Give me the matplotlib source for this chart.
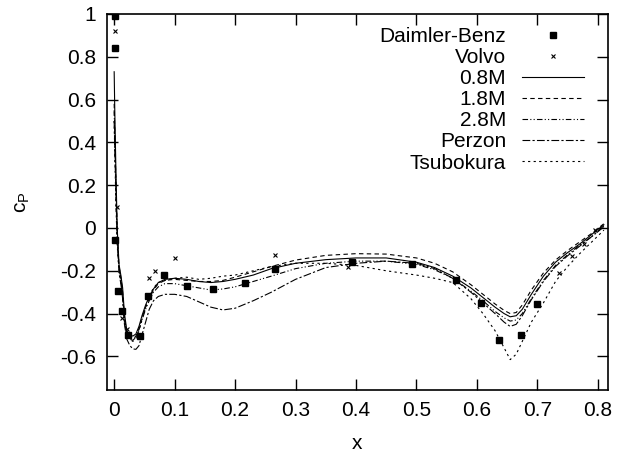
import matplotlib
matplotlib.use("Agg")
import matplotlib.pyplot as plt

plt.rcParams['font.family'] = ['Liberation Sans', 'DejaVu Sans']
plt.rcParams['axes.unicode_minus'] = False
plt.rcParams['mathtext.default'] = 'regular'

# ---- data ----
db_x = [0.002, 0.002, 0.001, 0.007, 0.013, 0.023, 0.043, 0.056, 0.083, 0.12, 0.163,
        0.217, 0.266, 0.393, 0.493, 0.565, 0.607, 0.636, 0.673, 0.70]
db_y = [0.99, 0.84, -0.056, -0.295, -0.39, -0.50, -0.505, -0.32, -0.22, -0.27, -0.285,
        -0.258, -0.19, -0.16, -0.17, -0.245, -0.35, -0.525, -0.50, -0.355]

volvo_x = [0.002, 0.004, 0.013, 0.021, 0.058, 0.068, 0.10, 0.266, 0.387,
           0.735, 0.757, 0.777, 0.795]
volvo_y = [0.92, 0.10, -0.42, -0.47, -0.235, -0.20, -0.14, -0.127, -0.18,
           -0.21, -0.13, -0.075, -0.01]

x_lines = [0.0, 0.001, 0.003, 0.005, 0.008, 0.011, 0.014, 0.017, 0.021, 0.026, 0.031,
           0.036, 0.041, 0.046, 0.052, 0.058, 0.065, 0.073, 0.084, 0.1, 0.12, 0.14,
           0.16, 0.18, 0.2, 0.23, 0.26, 0.3, 0.35, 0.4, 0.45, 0.5, 0.53, 0.56, 0.59,
           0.61, 0.63, 0.645, 0.655, 0.665, 0.675, 0.69, 0.71, 0.73, 0.75, 0.77, 0.79, 0.81]

y_08M = [0.73, 0.55, 0.25, 0.0, -0.17, -0.22, -0.28, -0.40, -0.48, -0.50, -0.505,
         -0.495, -0.46, -0.41, -0.36, -0.32, -0.285, -0.255, -0.24, -0.235, -0.24, -0.25,
         -0.255, -0.25, -0.24, -0.22, -0.19, -0.165, -0.148, -0.14, -0.14, -0.16, -0.185,
         -0.225, -0.28, -0.325, -0.37, -0.40, -0.415, -0.41, -0.38, -0.31, -0.225, -0.16,
         -0.115, -0.075, -0.03, 0.015]
y_18M = [0.58, 0.45, 0.2, -0.02, -0.18, -0.23, -0.30, -0.42, -0.49, -0.515, -0.52,
         -0.505, -0.47, -0.42, -0.37, -0.33, -0.29, -0.26, -0.245, -0.24, -0.245, -0.25,
         -0.25, -0.245, -0.23, -0.205, -0.18, -0.15, -0.128, -0.12, -0.122, -0.14, -0.165,
         -0.205, -0.265, -0.31, -0.355, -0.385, -0.40, -0.395, -0.36, -0.29, -0.21, -0.15,
         -0.105, -0.065, -0.025, 0.02]
y_28M = [0.55, 0.42, 0.18, -0.03, -0.19, -0.24, -0.31, -0.43, -0.50, -0.52, -0.525,
         -0.51, -0.475, -0.43, -0.38, -0.34, -0.30, -0.275, -0.26, -0.26, -0.27, -0.28,
         -0.29, -0.285, -0.275, -0.25, -0.225, -0.19, -0.165, -0.155, -0.155, -0.17, -0.195,
         -0.235, -0.295, -0.34, -0.39, -0.42, -0.435, -0.43, -0.40, -0.33, -0.245, -0.175,
         -0.125, -0.08, -0.04, 0.005]
y_perzon = [0.5, 0.38, 0.15, -0.05, -0.21, -0.26, -0.33, -0.45, -0.52, -0.55, -0.565,
            -0.567, -0.55, -0.50, -0.44, -0.38, -0.34, -0.32, -0.31, -0.31, -0.32, -0.345,
            -0.37, -0.383, -0.375, -0.34, -0.30, -0.24, -0.185, -0.165, -0.155, -0.165, -0.19,
            -0.235, -0.30, -0.35, -0.40, -0.44, -0.46, -0.45, -0.41, -0.335, -0.25, -0.18,
            -0.13, -0.085, -0.04, 0.01]
y_tsub = [0.5, 0.35, 0.1, -0.08, -0.2, -0.25, -0.32, -0.44, -0.50, -0.52, -0.53,
          -0.515, -0.48, -0.43, -0.37, -0.32, -0.28, -0.255, -0.245, -0.235, -0.23, -0.24,
          -0.235, -0.225, -0.22, -0.2, -0.18, -0.165, -0.165, -0.175, -0.2, -0.22, -0.235,
          -0.255, -0.33, -0.40, -0.48, -0.56, -0.615, -0.59, -0.53, -0.44, -0.35, -0.25,
          -0.18, -0.12, -0.065, -0.01]

x_ticks = [0, 0.1, 0.2, 0.3, 0.4, 0.5, 0.6, 0.7, 0.8]
x_ticklabels = ['0', '0.1', '0.2', '0.3', '0.4', '0.5', '0.6', '0.7', '0.8']
y_ticks = [-0.6, -0.4, -0.2, 0, 0.2, 0.4, 0.6, 0.8, 1]
y_ticklabels = ['-0.6', '-0.4', '-0.2', '0', '0.2', '0.4', '0.6', '0.8', '1']

# ---- figure ----
fig = plt.figure(figsize=(6.18, 4.58), dpi=100)
ax = fig.add_axes([0.173, 0.1485, 0.811, 0.821])

lw = 0.8
ax.plot(db_x, db_y, ls='none', marker='s', ms=4.5, color='black', label='Daimler-Benz')
ax.plot(volvo_x, volvo_y, ls='none', marker='x', ms=2.5, mew=0.8, color='black', label='Volvo')
ax.plot(x_lines, y_08M, color='black', lw=lw, ls='-', label='0.8M')
ax.plot(x_lines, y_18M, color='black', lw=lw, ls=(0, (4, 3)), label='1.8M')
ax.plot(x_lines, y_28M, color='black', lw=lw, ls=(0, (5, 2, 1, 2, 1, 2)), label='2.8M')
ax.plot(x_lines, y_perzon, color='black', lw=lw, ls=(0, (7, 2, 2, 2)), label='Perzon')
ax.plot(x_lines, y_tsub, color='black', lw=lw, ls=(0, (2, 3)), label='Tsubokura')

ax.set_xlim(-0.012, 0.817)
ax.set_ylim(-0.757, 1.0)
ax.set_xticks(x_ticks)
ax.set_xticklabels(x_ticklabels)
ax.set_yticks(y_ticks)
ax.set_yticklabels(y_ticklabels)
ax.tick_params(direction='in', length=8, width=1, top=True, right=True,
               labelsize=15, pad=8)
for s in ax.spines.values():
    s.set_linewidth(1.2)

ax.set_xlabel('x', fontsize=15, labelpad=10)
ax.set_ylabel('c$_P$', fontsize=15, labelpad=20)

leg = ax.legend(loc='upper right', bbox_to_anchor=(1.0, 1.029), frameon=False,
                markerfirst=False, fontsize=15,
                handlelength=3.0, handletextpad=0.75, labelspacing=0.1,
                borderaxespad=0.85, borderpad=0.3)
for t in leg.get_texts():
    t.set_ha('right')

fig.savefig('out.png', dpi=100)
